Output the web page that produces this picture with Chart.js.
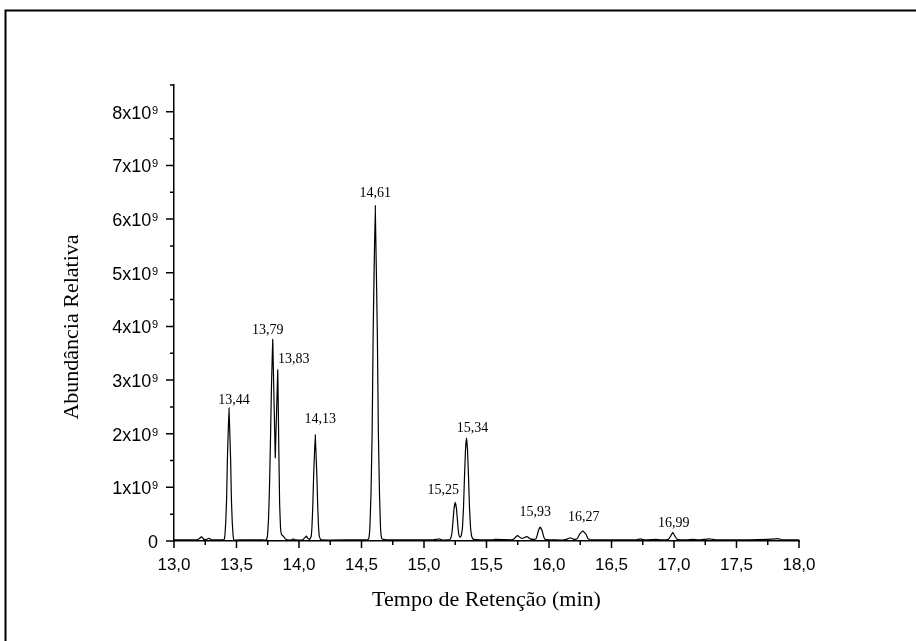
<!DOCTYPE html>
<html>
<head>
<meta charset="utf-8">
<title>Cromatograma</title>
<script src="https://cdn.jsdelivr.net/npm/chart.js@4.4.1/dist/chart.umd.min.js"></script>
<style>
  html, body { margin: 0; padding: 0; background: #fff; }
  #wrap { width: 916px; height: 641px; }
</style>
</head>
<body>
<div id="wrap"><canvas id="chrom" width="916" height="641"></canvas></div>
<script>
'use strict';

// tempo de retenção (min) e abundância (x10^9)
const retentionTime = [
  13.00, 13.10, 13.18, 13.20, 13.22, 13.24, 13.26, 13.28, 13.30, 13.38,
  13.400, 13.407, 13.414, 13.421, 13.427, 13.440, 13.453, 13.459, 13.466, 13.473, 13.480,
  13.55, 13.70, 13.740, 13.748, 13.756, 13.764, 13.772, 13.780, 13.790, 13.810,
  13.830, 13.838, 13.845, 13.852, 13.860, 13.875, 13.890, 13.910, 13.940, 13.955, 13.970,
  14.03, 14.05, 14.06, 14.07, 14.085,
  14.097, 14.104, 14.110, 14.117, 14.130, 14.143, 14.150, 14.156, 14.163, 14.175,
  14.40, 14.55,
  14.559, 14.567, 14.576, 14.585, 14.593, 14.610, 14.627, 14.635, 14.644, 14.652, 14.661, 14.675, 14.700,
  15.05, 15.10, 15.12, 15.14, 15.19,
  15.208, 15.218, 15.226, 15.233, 15.240, 15.250, 15.260, 15.267, 15.274, 15.282, 15.290,
  15.298, 15.308, 15.316, 15.324, 15.332, 15.340, 15.348, 15.356, 15.364, 15.372, 15.382, 15.395,
  15.55, 15.57, 15.70, 15.72, 15.74, 15.75, 15.765, 15.785, 15.80, 15.82, 15.83, 15.85, 15.88,
  15.895, 15.905, 15.915, 15.930, 15.945, 15.955, 15.965, 15.98,
  16.05, 16.12, 16.15, 16.17, 16.19, 16.21, 16.23, 16.245, 16.270, 16.295, 16.31, 16.33,
  16.45, 16.70, 16.73, 16.76, 16.85, 16.90,
  16.955, 16.97, 16.99, 17.01, 17.025,
  17.10, 17.15, 17.20, 17.28, 17.31, 17.35, 17.50, 17.60, 17.75, 17.83, 17.87, 18.00
];

const abundance = [
  0.02, 0.02, 0.02, 0.04, 0.08, 0.03, 0.03, 0.05, 0.02, 0.02,
  0.02, 0.10, 0.35, 0.80, 1.51, 2.48, 1.51, 0.80, 0.35, 0.10, 0.02,
  0.02, 0.02, 0.02, 0.10, 0.40, 1.00, 1.90, 2.90, 3.76, 1.55,
  3.19, 1.80, 0.70, 0.25, 0.12, 0.09, 0.04, 0.02, 0.02, 0.04, 0.02,
  0.02, 0.07, 0.09, 0.05, 0.03,
  0.08, 0.28, 0.63, 1.21, 1.98, 1.21, 0.63, 0.28, 0.08, 0.02,
  0.02, 0.02,
  0.05, 0.25, 0.88, 2.00, 3.81, 6.25, 3.81, 2.00, 0.88, 0.25, 0.05, 0.03, 0.02,
  0.02, 0.03, 0.04, 0.02, 0.02,
  0.03, 0.08, 0.20, 0.40, 0.60, 0.72, 0.60, 0.40, 0.20, 0.09, 0.07,
  0.10, 0.26, 0.62, 1.20, 1.70, 1.92, 1.70, 1.20, 0.62, 0.26, 0.08, 0.03,
  0.02, 0.03, 0.02, 0.04, 0.09, 0.10, 0.07, 0.05, 0.06, 0.08, 0.075, 0.04, 0.03,
  0.04, 0.10, 0.19, 0.26, 0.19, 0.10, 0.04, 0.025,
  0.02, 0.02, 0.04, 0.06, 0.04, 0.03, 0.06, 0.13, 0.19, 0.13, 0.05, 0.02,
  0.02, 0.02, 0.04, 0.02, 0.03, 0.02,
  0.03, 0.08, 0.16, 0.08, 0.03,
  0.02, 0.03, 0.02, 0.04, 0.03, 0.02, 0.02, 0.02, 0.03, 0.045, 0.02, 0.02
];

// picos identificados
const peakTimes = [13.44, 13.79, 13.83, 14.13, 14.61, 15.25, 15.34, 15.93, 16.27, 16.99];

const xTicks = [13.0, 13.5, 14.0, 14.5, 15.0, 15.5, 16.0, 16.5, 17.0, 17.5, 18.0];
const yTicks = [0, 1, 2, 3, 4, 5, 6, 7, 8];

// deslocamento dos rótulos dos picos (px)
const labelNudge = [[5, -8], [-5, -9], [16, -11], [5, -15], [0, -12],
                    [-12, -12], [6, -10], [-5, -15], [1, -13], [1, -9]];

const SANS = "'Liberation Sans', Arial, sans-serif";
const SERIF = "'Liberation Serif', 'Times New Roman', serif";
const comma = (v, d) => v.toFixed(d).replace('.', ',');

const decorations = {
  id: 'decorations',
  afterDraw(chart) {
    const ctx = chart.ctx;
    const xs = chart.scales.x, ys = chart.scales.y;
    const area = chart.chartArea;
    ctx.save();

    // moldura da figura
    ctx.strokeStyle = '#000';
    ctx.lineWidth = 2;
    ctx.beginPath();
    ctx.moveTo(5.5, 660);
    ctx.lineTo(5.5, 10.5);
    ctx.lineTo(930, 10.5);
    ctx.stroke();

    // marcas dos eixos (principais e secundárias)
    ctx.lineWidth = 1.5;
    ctx.beginPath();
    for (let v = 13; v <= 18.001; v += 0.25) {
      const px = xs.getPixelForValue(v);
      const len = Math.abs(v * 2 - Math.round(v * 2)) < 1e-6 ? 7 : 4;
      ctx.moveTo(px, area.bottom);
      ctx.lineTo(px, area.bottom + len);
    }
    for (let v = 0; v <= 8.501; v += 0.5) {
      const py = ys.getPixelForValue(v);
      const len = Math.abs(v - Math.round(v)) < 1e-6 ? 8 : 4;
      ctx.moveTo(area.left, py);
      ctx.lineTo(area.left - len, py);
    }
    ctx.stroke();

    // rótulos do eixo y: Nx10^9
    ctx.fillStyle = '#000';
    ctx.textBaseline = 'alphabetic';
    const right = area.left - 16;
    yTicks.forEach(v => {
      const py = ys.getPixelForValue(v);
      if (v === 0) {
        ctx.font = '18px ' + SANS;
        ctx.textAlign = 'right';
        ctx.fillText('0', right, py + 6.5);
        return;
      }
      ctx.textAlign = 'left';
      ctx.font = '11px ' + SANS;
      const supW = ctx.measureText('9').width;
      ctx.font = '18px ' + SANS;
      const main = v + 'x10';
      const mainW = ctx.measureText(main).width;
      const x0 = right - supW - mainW - 0.5;
      ctx.fillText(main, x0, py + 7);
      ctx.font = '11px ' + SANS;
      ctx.fillText('9', x0 + mainW + 0.5, py + 2);
    });

    // rótulos dos picos
    ctx.font = '14px ' + SERIF;
    ctx.textAlign = 'center';
    ctx.textBaseline = 'middle';
    peakTimes.forEach((t, i) => {
      const k = retentionTime.findIndex(r => Math.abs(r - t) < 1e-6);
      const px = xs.getPixelForValue(t);
      const py = ys.getPixelForValue(abundance[k]);
      ctx.fillText(comma(t, 2), px + labelNudge[i][0], py + labelNudge[i][1]);
    });

    // títulos dos eixos
    ctx.font = '22px ' + SERIF;
    ctx.fillText('Tempo de Retenção (min)', (area.left + area.right) / 2, 600);
    ctx.translate(72, 327);
    ctx.rotate(-Math.PI / 2);
    ctx.fillText('Abundância Relativa', 0, 0);

    ctx.restore();
  }
};

new Chart(document.getElementById('chrom'), {
  type: 'line',
  data: {
    datasets: [{
      data: retentionTime.map((t, i) => ({ x: t, y: abundance[i] })),
      borderColor: '#000',
      borderWidth: 1.2,
      pointRadius: 0,
      tension: 0.05,
      fill: false
    }]
  },
  options: {
    responsive: false,
    animation: false,
    devicePixelRatio: 1,
    layout: { padding: { top: 85, right: 117, bottom: 0, left: 0 } },
    plugins: { legend: { display: false }, tooltip: { enabled: false } },
    scales: {
      x: {
        type: 'linear',
        min: 13,
        max: 18,
        afterFit(scale) { scale.height = 100; },
        afterBuildTicks(scale) { scale.ticks = xTicks.map(v => ({ value: v })); },
        grid: { display: true, drawOnChartArea: false, drawTicks: false },
        border: { display: true, color: '#000', width: 1.5 },
        ticks: {
          padding: 14,
          maxRotation: 0,
          autoSkip: false,
          color: '#000',
          font: { family: SANS, size: 17 },
          callback: v => comma(v, 1)
        }
      },
      y: {
        type: 'linear',
        min: 0,
        max: 8.5,
        afterFit(scale) { scale.width = 174; },
        grid: { display: true, drawOnChartArea: false, drawTicks: false },
        border: { display: true, color: '#000', width: 1.5 },
        ticks: { display: false, stepSize: 1, includeBounds: false }
      }
    }
  },
  plugins: [decorations]
});
</script>
</body>
</html>
